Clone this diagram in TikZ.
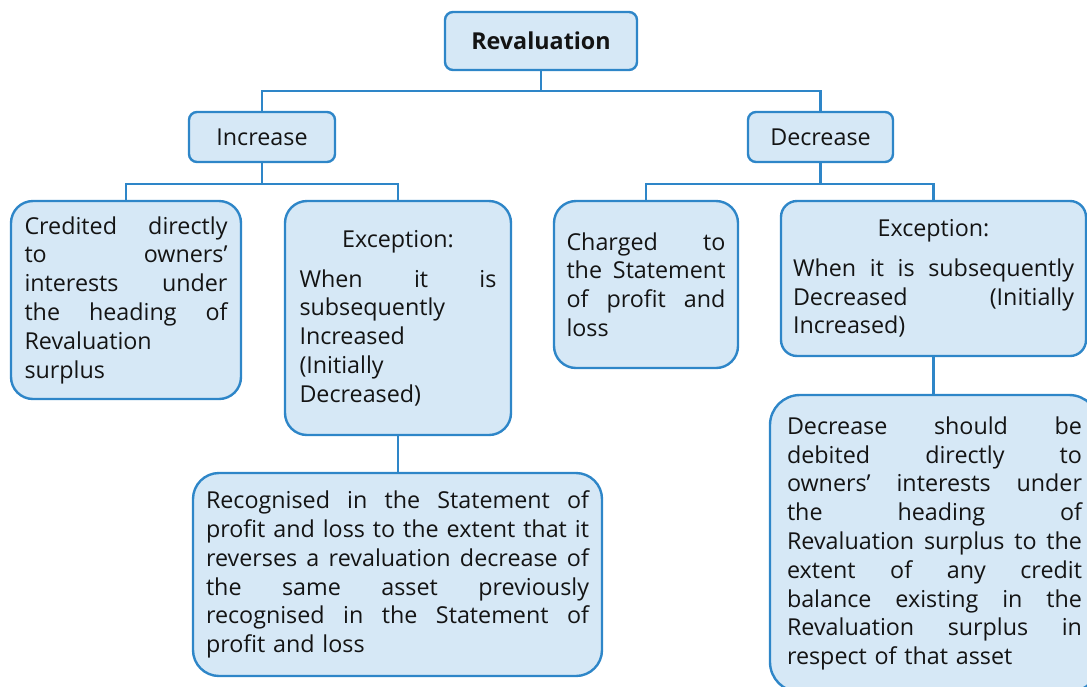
\documentclass[tikz,border=0pt]{standalone}
\usepackage{fontspec}
\setmainfont{Open Sans}
\definecolor{bord}{RGB}{46,134,200}
\definecolor{boxfill}{RGB}{214,232,246}
\definecolor{txt}{RGB}{20,20,20}
\newcommand\jl[1]{{\spaceskip=0pt\xspaceskip=0pt\makebox[\hsize][s]{#1}}}
\newcommand\cl[1]{\makebox[\hsize]{#1}}
\tikzset{
  box/.style={draw=bord, fill=boxfill, line width=2.4pt, text=txt, inner xsep=0pt, inner ysep=0pt,
    font=\fontsize{23.3}{28.8}\selectfont},
  tbox/.style={box, rounded corners=22pt, align=left},
  sbox/.style={box, rounded corners=8pt, align=center},
  conn/.style={draw=bord, line width=2.2pt},
}
\begin{document}
\begin{tikzpicture}[x=1pt,y=-1pt]
\useasboundingbox (0,0) rectangle (1087,686);
\clip (0,0) rectangle (1087,686);
% top level
\node[sbox, minimum width=192pt, minimum height=58pt] (rev) at (541,41) {\textbf{Revaluation}};
\node[sbox, minimum width=146pt, minimum height=50pt] (inc) at (262,137) {Increase};
\node[sbox, minimum width=145pt, minimum height=50pt] (dec) at (820.5,137) {Decrease};
% increase branch
\node[tbox, text width=203pt, minimum width=230pt, minimum height=198pt] (a) at (126,300)
 {\jl{Credited directly}\\\jl{to owners’}\\\jl{interests under}\\\jl{the heading of}\\Revaluation\\surplus};
\node[tbox, text width=197pt, minimum width=226pt, minimum height=234pt] (b) at (398,318)
 {\cl{Exception:}\\[11pt]\jl{When it is}\\subsequently\\Increased\\(Initially\\Decreased)};
\node[tbox, rounded corners=26pt, text width=383pt, minimum width=409pt, minimum height=203pt] (c) at (397.5,574.5)
 {\jl{Recognised in the Statement of}\\\jl{profit and loss to the extent that it}\\\jl{reverses a revaluation decrease of}\\\jl{the same asset previously}\\\jl{recognised in the Statement of}\\profit and loss};
% decrease branch
\node[tbox, text width=159pt, minimum width=184pt, minimum height=167pt] (d) at (646,284.5)
 {\jl{Charged to}\\\jl{the Statement}\\\jl{of profit and}\\loss};
\node[tbox, rounded corners=16pt, text width=281pt, minimum width=305pt, minimum height=155pt] (e) at (933.5,278.5)
 {\cl{Exception:}\\[11pt]\jl{When it is subsequently}\\\jl{Decreased (Initially}\\Increased)};
\node[tbox, rounded corners=30pt, text width=295pt, minimum width=329pt, minimum height=297pt] (f) at (934.5,543.5)
 {\jl{Decrease should be}\\\jl{debited directly to}\\\jl{owners’ interests under}\\\jl{the heading of}\\\jl{Revaluation surplus to the}\\\jl{extent of any credit}\\\jl{balance existing in the}\\\jl{Revaluation surplus in}\\respect of that asset};
% connectors
\draw[conn] (rev.south) -- ++(0,20) -| (inc.north);
\draw[conn] (rev.south) -- ++(0,20) -| (dec.north);
\draw[conn] (inc.south) -- ++(0,21) -| (a.north);
\draw[conn] (inc.south) -- ++(0,21) -| (b.north);
\draw[conn] (dec.south) -- ++(0,21) -| (d.north);
\draw[conn] (dec.south) -- ++(0,21) -| (e.north);
\draw[conn] (b.south) -- (b.south |- c.north);
\draw[conn] (e.south) -- (e.south |- f.north);
\end{tikzpicture}
\end{document}
